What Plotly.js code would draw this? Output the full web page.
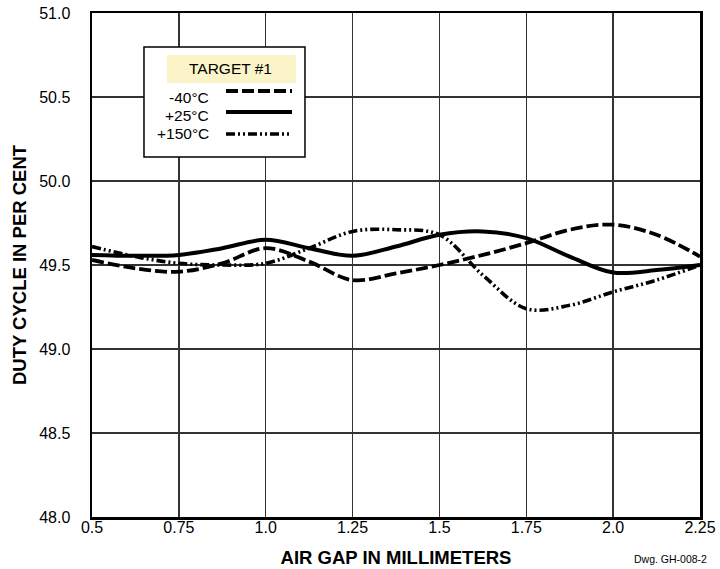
<!DOCTYPE html>
<html><head><meta charset="utf-8">
<script src="https://cdn.plot.ly/plotly-3.0.1.min.js"></script>
<style>html,body{margin:0;padding:0;background:#fff}#c{width:720px;height:569px}</style>
</head><body><div id="c"></div>
<script>
const gap = [0.5,0.625,0.75,0.875,1.0,1.125,1.25,1.375,1.5,1.625,1.75,1.875,2.0,2.125,2.25];
const minus40 = [49.53,49.48,49.46,49.51,49.60,49.52,49.41,49.45,49.50,49.56,49.63,49.71,49.74,49.68,49.55];
const plus25  = [49.56,49.555,49.56,49.60,49.65,49.60,49.555,49.61,49.68,49.70,49.66,49.55,49.455,49.47,49.50];
const plus150 = [49.61,49.55,49.51,49.50,49.51,49.60,49.70,49.71,49.68,49.44,49.24,49.26,49.34,49.41,49.50];
const xTicks = [0.5,0.75,1.0,1.25,1.5,1.75,2.0,2.25];
const xTickText = ["0.5","0.75","1.0","1.25","1.5","1.75","2.0","2.25"];
const yTicks = [48.0,48.5,49.0,49.5,50.0,50.5,51.0];
const seriesNames = ["-40°C","+25°C","+150°C"];
const legendTitle = "TARGET #1";
const drawingNo = "Dwg. GH-008-2";

const dashes = ["12px,4px","solid","9px,3px,2px,3px,2px,3px"];
const widths = [3.8,4,3.6];
const data = [minus40,plus25,plus150].map((v,i)=>({
  x: gap, y: v, type:'scatter', mode:'lines', name: seriesNames[i],
  line:{color:'#000', width:widths[i], dash:dashes[i], shape:'spline', smoothing:1},
  showlegend:false
}));

const F = 'Liberation Sans, Arial, sans-serif';
const shapes = [
  {type:'rect', xref:'paper', yref:'paper', x0:0.0855, x1:0.3503, y0:0.7143, y1:0.9325, fillcolor:'#fff', line:{color:'#000', width:1.5}, layer:'above'},
  {type:'rect', xref:'paper', yref:'paper', x0:0.1234, x1:0.3355, y0:0.861, y1:0.9167, fillcolor:'#fbf4c9', line:{width:0}, layer:'above'}
];
const rowsY = [0.8333,0.7976,0.7619];
const sampleY = [0.8452,0.8036,0.7599];
sampleY.forEach((yy,i)=>{
  shapes.push({type:'line', xref:'paper', yref:'paper', x0:0.2204, x1:0.329, y0:yy, y1:yy, line:{color:'#000', width:widths[i], dash:dashes[i]}, layer:'above'});
});
const annotations = [
  {xref:'paper', yref:'paper', x:0.2286, y:0.889, text:legendTitle, showarrow:false, font:{family:F, size:15.5, color:'#000'}, xanchor:'center', yanchor:'middle'}
];
rowsY.forEach((yy,i)=>{
  annotations.push({xref:'paper', yref:'paper', x:0.196, y:yy, text:seriesNames[i], showarrow:false, font:{family:F, size:15.5, color:'#000'}, xanchor:'right', yanchor:'middle'});
});
annotations.push({xref:'paper', yref:'paper', x:0.952, y:-0.1, text:drawingNo, showarrow:false, font:{family:F, size:10.5, color:'#000'}, xanchor:'center', yanchor:'bottom'});

const layout = {
  width:720, height:569,
  margin:{l:92, r:20, t:13, b:52, autoexpand:false},
  paper_bgcolor:'#fff', plot_bgcolor:'#fff',
  font:{family:F, color:'#000'},
  xaxis:{range:[0.5,2.25], tickvals:xTicks, ticktext:xTickText, showgrid:true, gridcolor:'#333', gridwidth:1.3,
    showline:true, linecolor:'#000', linewidth:2.5, mirror:true, ticks:'', zeroline:false, ticklabelstandoff:-6,
    tickfont:{family:F, size:16}, title:{text:'AIR GAP IN MILLIMETERS', font:{family:F, size:18.5, weight:'bold'}, standoff:17}},
  yaxis:{range:[48,51], tickvals:yTicks, tickformat:'.1f', showgrid:true, gridcolor:'#333', gridwidth:1.3,
    showline:true, linecolor:'#000', linewidth:2.5, mirror:true, ticks:'', zeroline:false, ticklabelstandoff:16,
    tickfont:{family:F, size:16}, title:{text:'DUTY CYCLE IN PER CENT', font:{family:F, size:18.5, weight:'bold'}, standoff:8}},
  shapes: shapes, annotations: annotations
};
Plotly.newPlot('c', data, layout, {displayModeBar:false, staticPlot:true});
</script></body></html>
